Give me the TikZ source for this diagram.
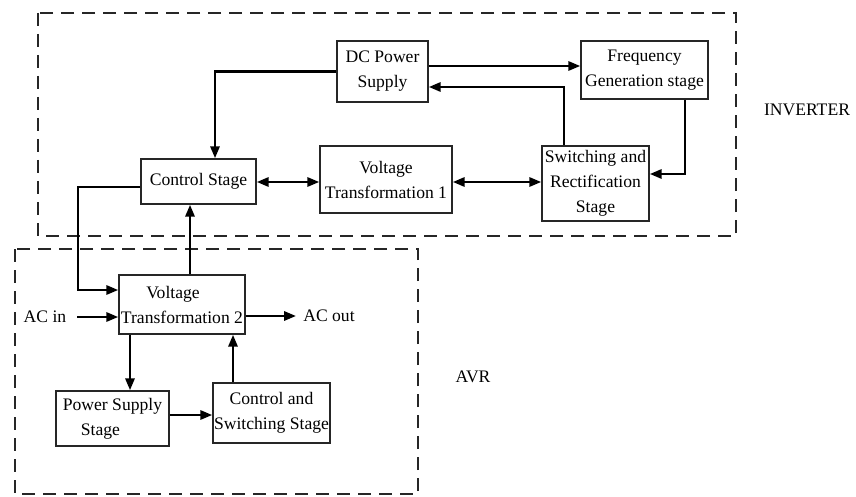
\documentclass[tikz,border=0pt]{standalone}
\usepackage{fontspec}
\setmainfont{Liberation Serif}
\usetikzlibrary{arrows.meta}
\begin{document}
\begin{tikzpicture}[x=1pt,y=-1pt,
  box/.style={draw=black!85,line width=1.3pt,rectangle,inner sep=0pt,align=center,
    font=\fontsize{17.6}{25}\selectfont},
  lbl/.style={inner sep=0pt,font=\fontsize{17.6}{25}\selectfont},
  arr/.style={line width=2.8pt,-{Triangle[length=12pt,width=9pt]}},
  darr/.style={line width=2.8pt,{Triangle[length=12pt,width=9pt]}-{Triangle[length=12pt,width=9pt]}},
  region/.style={draw=black!85,line width=1.4pt,dash pattern=on 13pt off 8pt}]
\useasboundingbox[fill=white] (0,0) rectangle (856,497);
% regions
\draw[region] (38,13) rectangle (736,236);
\draw[region] (15,249) rectangle (418,494);
% boxes
\node[box,minimum width=91pt,minimum height=61pt] (dc) at (382.5,71.5) {DC Power\\Supply};
\node[box,minimum width=127pt,minimum height=58pt] (freq) at (644.5,70) {Frequency\\Generation stage};
\node[box,minimum width=115pt,minimum height=45pt] (ctrl) at (198.5,181.5) {Control Stage};
\node[box,minimum width=132pt,minimum height=67pt] (vt1) at (386,179.5) {Voltage\\Transformation 1};
\node[box,minimum width=107pt,minimum height=75pt] (sw) at (595.5,183.5) {Switching and\\Rectification\\Stage};
\node[box,minimum width=126pt,minimum height=59pt] (vt2) at (182,304.5) {\hspace*{-18pt}Voltage\\Transformation 2};
\node[box,minimum width=113pt,minimum height=55pt] (pss) at (112.5,418.5) {Power Supply\\\hspace*{-24pt}Stage};
\node[box,minimum width=117pt,minimum height=60pt] (css) at (271.5,413) {Control and\\Switching Stage};
% labels
\node[lbl] (acin) at (45,317) {AC in};
\node[lbl] (acout) at (329,316) {AC out};
\node[lbl] (inv) at (807,110) {INVERTER};
\node[lbl] (avr) at (473,377) {AVR};
% connectors
\draw[arr] (dc.west) -| ([xshift=16.5pt]ctrl.north);
\draw[arr] (dc.east |- 0,66) -- (freq.west |- 0,66);
\draw[arr] (564,0 |- sw.north) |- (dc.east |- 0,87);
\draw[arr] (685,0 |- freq.south) |- (sw.east |- 0,174);
\draw[darr] (ctrl.east |- 0,182) -- (vt1.west |- 0,182);
\draw[darr] (vt1.east |- 0,182) -- (sw.west |- 0,182);
\draw[arr] (ctrl.west |- 0,187) -| (78,290) -- (vt2.west |- 0,290);
\draw[arr] (190,0 |- vt2.north) -- (190,0 |- ctrl.south);
\draw[arr] (130,0 |- vt2.south) -- (130,0 |- pss.north);
\draw[arr] (pss.east |- 0,415) -- (css.west |- 0,415);
\draw[arr] (233,0 |- css.north) -- (233,0 |- vt2.south);
\draw[arr] ([xshift=11pt]acin.east) -- (vt2.west |- acin.east);
\draw[arr] (vt2.east |- acout.west) -- ([xshift=-7pt]acout.west);
\end{tikzpicture}
\end{document}
